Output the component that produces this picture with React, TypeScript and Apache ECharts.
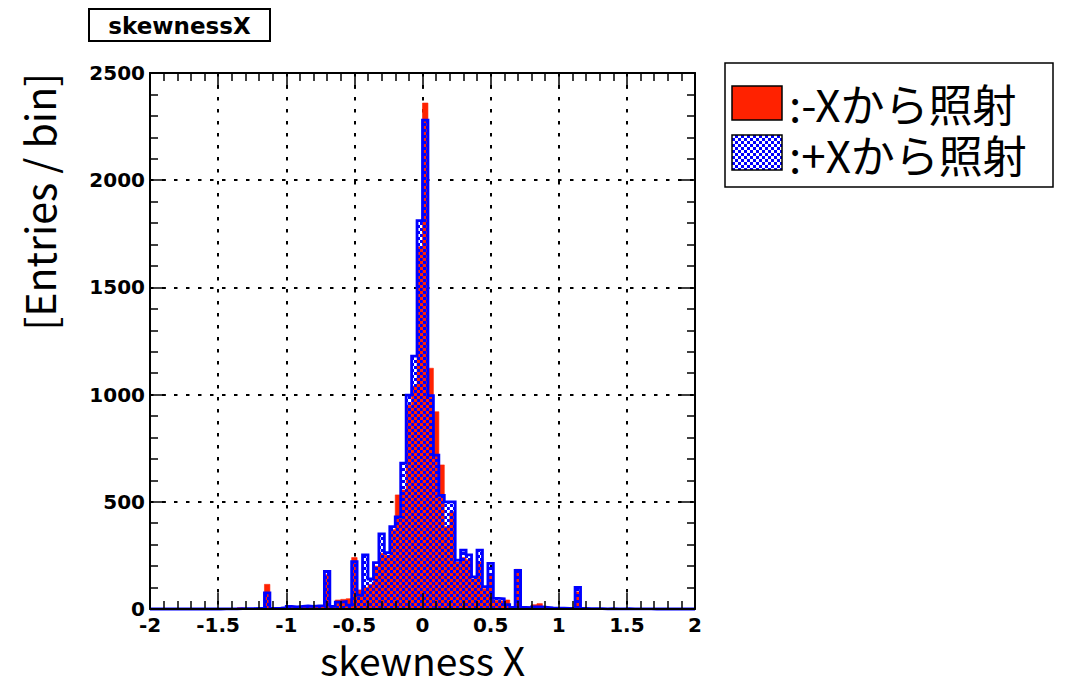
import React, { useEffect, useRef } from "react";
import * as echarts from "echarts";

// Histogram binning: 100 bins of width 0.04 from -2 to 2
const binLow = -2;
const binWidth = 0.04;

// Entries per bin, irradiated from -X (red, solid)
const minusX = [
  0, 0, 0, 0, 0, 1, 0, 0, 1, 0,
  0, 1, 0, 1, 2, 1, 6, 4, 3, 2,
  4, 115, 4, 3, 5, 14, 8, 10, 12, 10,
  12, 14, 160, 15, 42, 45, 48, 240, 89, 100,
  115, 200, 260, 250, 370, 532, 555, 950, 1040, 1690,
  2360, 1123, 920, 672, 384, 454, 220, 240, 230, 140,
  220, 95, 160, 40, 38, 42, 10, 185, 10, 8,
  20, 25, 12, 6, 4, 5, 3, 4, 80, 3,
  2, 2, 1, 2, 1, 1, 2, 1, 1, 0,
  1, 0, 1, 0, 0, 1, 0, 0, 0, 0,
];

// Entries per bin, irradiated from +X (blue, checkered)
const plusX = [
  0, 0, 0, 0, 0, 0, 1, 0, 0, 0,
  1, 0, 0, 1, 1, 1, 2, 2, 2, 3,
  3, 75, 3, 4, 6, 12, 10, 12, 14, 12,
  15, 15, 175, 12, 32, 35, 18, 221, 65, 252,
  140, 216, 350, 263, 384, 430, 680, 998, 1179, 1811,
  2280, 995, 718, 530, 500, 500, 228, 275, 252, 150,
  275, 104, 213, 50, 48, 20, 8, 180, 8, 6,
  10, 10, 8, 5, 4, 4, 3, 3, 101, 3,
  2, 2, 2, 1, 2, 1, 1, 2, 1, 1,
  1, 1, 0, 1, 0, 0, 1, 0, 0, 0,
];

const xMin = -2;
const xMax = 2;
const xStep = 0.5;
const yMin = 0;
const yMax = 2500;
const yStep = 500;

const titleText = "skewnessX";
const xTitle = "skewness X";
const yTitle = "[Entries / bin]";
const legendLabels = [":-Xから照射", ":+Xから照射"];

const RED = "#ff2200";
const BLUE = "#0000ff";
const LABEL_FONT = "DejaVu Sans";
const JP_FONT = "'Noto Sans CJK JP', 'Noto Sans', sans-serif";

function makeChecker(): HTMLCanvasElement {
  const c = document.createElement("canvas");
  c.width = 6;
  c.height = 6;
  const ctx = c.getContext("2d")!;
  ctx.clearRect(0, 0, 6, 6);
  ctx.fillStyle = BLUE;
  ctx.fillRect(0, 0, 3, 3);
  ctx.fillRect(3, 3, 3, 3);
  return c;
}

export default function App() {
  const ref = useRef<HTMLDivElement>(null);

  useEffect(() => {
    if (!ref.current) return;
    const chart = echarts.init(ref.current, null, { renderer: "svg" });
    const checker = makeChecker();
    const pattern: any = { image: checker, repeat: "repeat" };

    const redData = minusX.map((v, i) => [binLow + i * binWidth, v]);
    const blueData = plusX.map((v, i) => [binLow + i * binWidth, v]);
    const outline: number[][] = [[binLow, 0]];
    plusX.forEach((v, i) => {
      const a = binLow + i * binWidth;
      outline.push([a, v], [a + binWidth, v]);
    });
    outline.push([binLow + plusX.length * binWidth, 0]);

    const rectItem = (fill: any, stroke: string | null) => (params: any, api: any) => {
      const x0 = api.value(0);
      const v = api.value(1);
      const p0 = api.coord([x0, 0]);
      const p1 = api.coord([x0 + binWidth, v]);
      return {
        type: "rect",
        shape: { x: p0[0], y: p1[1], width: p1[0] - p0[0], height: p0[1] - p1[1] },
        style: stroke ? { fill, stroke, lineWidth: 0.6 } : { fill },
      };
    };

    const tickAxisCommon = {
      type: "value",
      axisLine: { show: true, onZero: false, lineStyle: { color: "#000", width: 2 } },
      axisTick: { show: true, inside: true, length: 16, lineStyle: { color: "#000", width: 1.5 } },
      minorTick: { show: true, splitNumber: 5, length: 8, lineStyle: { color: "#000", width: 1.5 } },
      splitLine: { show: false },
      z: 10,
    };
    const gridAxisCommon = {
      type: "value",
      axisLine: { show: false },
      axisTick: { show: false },
      axisLabel: { show: false },
      splitLine: { show: true, lineStyle: { color: "#000", width: 2, type: [3.5, 8.5] } },
      z: 0,
    };
    const labelStyle = {
      color: "#000",
      fontFamily: LABEL_FONT,
      fontWeight: "bold",
      fontSize: 20,
      lineHeight: 20,
      formatter: (v: number) => String(v),
    };

    chart.setOption({
      animation: false,
      backgroundColor: "#fff",
      grid: {
        left: 150,
        right: 381,
        top: 73,
        bottom: 70,
        containLabel: false,
        outerBoundsMode: "none",
      },
      xAxis: [
        {
          ...tickAxisCommon,
          min: xMin, max: xMax, interval: xStep, position: "bottom",
          axisLabel: { ...labelStyle, margin: 6, showMinLabel: true, showMaxLabel: true },
          name: xTitle,
          nameLocation: "middle",
          nameGap: 50,
          nameTextStyle: {
            fontFamily: JP_FONT,
            fontSize: 39,
            lineHeight: 36,
            color: "#000",
            verticalAlign: "middle",
          },
        },
        {
          ...tickAxisCommon,
          min: xMin, max: xMax, interval: xStep, position: "top",
          axisLabel: { show: false },
        },
        { ...gridAxisCommon, min: xMin, max: xMax, interval: xStep, position: "bottom" },
      ],
      yAxis: [
        {
          ...tickAxisCommon,
          min: yMin, max: yMax, interval: yStep, position: "left",
          axisLabel: { ...labelStyle, margin: 5 },
        },
        {
          ...tickAxisCommon,
          min: yMin, max: yMax, interval: yStep, position: "right",
          axisLabel: { show: false },
        },
        { ...gridAxisCommon, min: yMin, max: yMax, interval: yStep, position: "left" },
      ],
      series: [
        {
          type: "custom",
          name: legendLabels[0],
          xAxisIndex: 0,
          yAxisIndex: 0,
          data: redData,
          renderItem: rectItem(RED, RED),
          z: 2,
        },
        {
          type: "custom",
          name: legendLabels[1],
          xAxisIndex: 0,
          yAxisIndex: 0,
          data: blueData,
          renderItem: rectItem(pattern, null),
          z: 3,
        },
        {
          type: "line",
          xAxisIndex: 0,
          yAxisIndex: 0,
          data: outline,
          symbol: "none",
          clip: false,
          lineStyle: { color: BLUE, width: 2.8, join: "miter" },
          z: 4,
        },
      ],
      graphic: [
        {
          type: "rect",
          shape: { x: 89, y: 9, width: 181, height: 32 },
          style: { fill: "#fff", stroke: "#000", lineWidth: 2 },
        },
        {
          type: "text",
          x: 179.5,
          y: 26,
          style: {
            text: titleText,
            fontFamily: LABEL_FONT,
            fontWeight: "bold",
            fontSize: 23,
            fill: "#000",
            align: "center",
            verticalAlign: "middle",
          },
        },
        {
          type: "text",
          x: 38,
          y: 73,
          rotation: Math.PI / 2,
          style: {
            text: yTitle,
            fontFamily: JP_FONT,
            fontSize: 41,
            fill: "#000",
            align: "right",
            verticalAlign: "middle",
          },
        },
        {
          type: "rect",
          shape: { x: 725, y: 63, width: 328, height: 124 },
          style: { fill: "#fff", stroke: "#000", lineWidth: 1.5 },
        },
        {
          type: "rect",
          shape: { x: 732, y: 86, width: 50, height: 34 },
          style: { fill: RED, stroke: "#000", lineWidth: 1.5 },
        },
        {
          type: "rect",
          shape: { x: 732, y: 135, width: 50, height: 35 },
          style: { fill: pattern, stroke: "#000", lineWidth: 1.5 },
        },
        {
          type: "text",
          x: 789,
          y: 103,
          style: {
            text: legendLabels[0],
            fontFamily: JP_FONT,
            fontSize: 44,
            fill: "#000",
            align: "left",
            verticalAlign: "middle",
          },
        },
        {
          type: "text",
          x: 789,
          y: 154,
          style: {
            text: legendLabels[1],
            fontFamily: JP_FONT,
            fontSize: 44,
            fill: "#000",
            align: "left",
            verticalAlign: "middle",
          },
        },
      ],
    });

    return () => chart.dispose();
  }, []);

  return (
    <div
      ref={ref}
      style={{ position: "absolute", left: 0, top: 0, width: 1076, height: 679, background: "#fff" }}
    />
  );
}
